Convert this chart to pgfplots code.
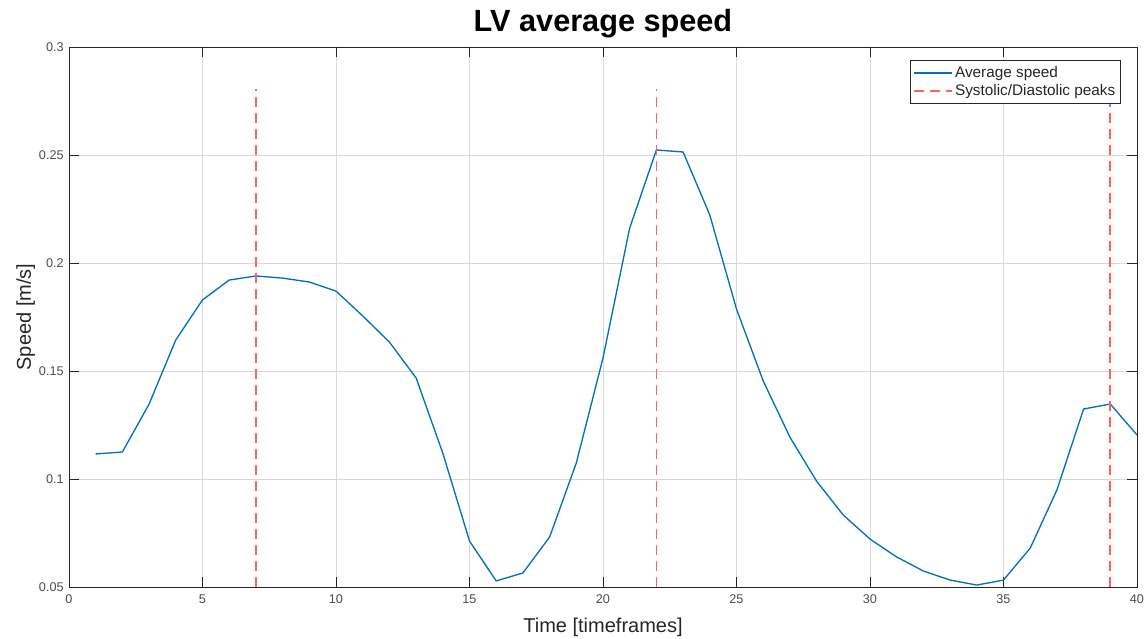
\documentclass[border=0pt]{standalone}
\usepackage{pgfplots}
\pgfplotsset{compat=1.18}
\usepackage{fontspec}
\setmainfont{Liberation Sans}
\definecolor{mblue}{rgb}{0,0.447,0.741}
\definecolor{mred}{rgb}{1,0.38,0.38}
\definecolor{axgray}{rgb}{0.15,0.15,0.15}
\definecolor{lblgray}{rgb}{0.3,0.3,0.3}
\begin{document}
\begin{tikzpicture}
\useasboundingbox (-51.75pt,-39pt) rectangle (808.5pt,440.25pt);
\begin{axis}[
  at={(0,0)}, anchor=south west,
  scale only axis,
  width=801pt, height=405pt,
  xmin=0, xmax=40, ymin=0.05, ymax=0.3,
  xtick={0,5,...,40},
  ytick={0.05,0.1,0.15,0.2,0.25,0.3},
  tick align=inside,
  major tick length=7.5pt,
  tick style={axgray, line width=0.6pt},
  axis line style={axgray, line width=0.7pt},
  grid=major,
  grid style={gray!30, line width=0.5pt},
  /pgf/number format/assume math mode=true,
  yticklabel style={/pgf/number format/fixed, /pgf/number format/precision=2},
  ticklabel style={font=\fontsize{9.5pt}{11pt}\selectfont, text=lblgray},
  xticklabel style={yshift=-2pt},
  yticklabel style={xshift=-0.5pt},
  title={\textbf{LV average speed}},
  title style={font=\fontsize{23pt}{27pt}\selectfont, yshift=-3pt},
  xlabel={Time [timeframes]},
  ylabel={Speed [m/s]},
  label style={font=\fontsize{15pt}{18pt}\selectfont, text=axgray},
  xlabel style={yshift=-4pt},
  ylabel style={yshift=-4pt},
  legend style={at={(rel axis cs:1,1)}, anchor=north east, xshift=-12pt, yshift=-9.75pt,
    font=\fontsize{11.5pt}{13pt}\selectfont, draw=axgray, line width=0.6pt,
    inner xsep=2pt, inner ysep=2.5pt, row sep=-0.5pt, cells={anchor=west, text=axgray}},
  legend image code/.code={\draw[#1] (0pt,0pt) -- (28pt,0pt);},
]
\addplot[mblue, line width=1pt] coordinates {
(1,0.1116) (2,0.1125) (3,0.1347) (4,0.1644) (5,0.1829) (6,0.1921) (7,0.1940)
(8,0.1930) (9,0.1912) (10,0.1870) (11,0.1755) (12,0.1634) (13,0.1468) (14,0.1120)
(15,0.0713) (16,0.0528) (17,0.0565) (18,0.0731) (19,0.1074) (20,0.1560) (21,0.2162)
(22,0.2523) (23,0.2514) (24,0.2222) (25,0.1787) (26,0.1454) (27,0.1194) (28,0.0990)
(29,0.0833) (30,0.0722) (31,0.0639) (32,0.0574) (33,0.0532) (34,0.0509) (35,0.0532)
(36,0.0680) (37,0.0949) (38,0.1324) (39,0.1347) (40,0.1204)};
\addlegendentry{Average speed}
\addplot[mred, line width=1.3pt, dash pattern=on 7.5pt off 4.5pt] coordinates {(7,0.05) (7,0.2806)};
\addlegendentry{Systolic/Diastolic peaks}
\addplot[mred, line width=1.3pt, dash pattern=on 7.5pt off 4.5pt, forget plot] coordinates {(22,0.05) (22,0.2806)};
\addplot[mred, line width=1.3pt, dash pattern=on 7.5pt off 4.5pt, forget plot] coordinates {(39,0.05) (39,0.2806)};
\end{axis}
\end{tikzpicture}
\end{document}
